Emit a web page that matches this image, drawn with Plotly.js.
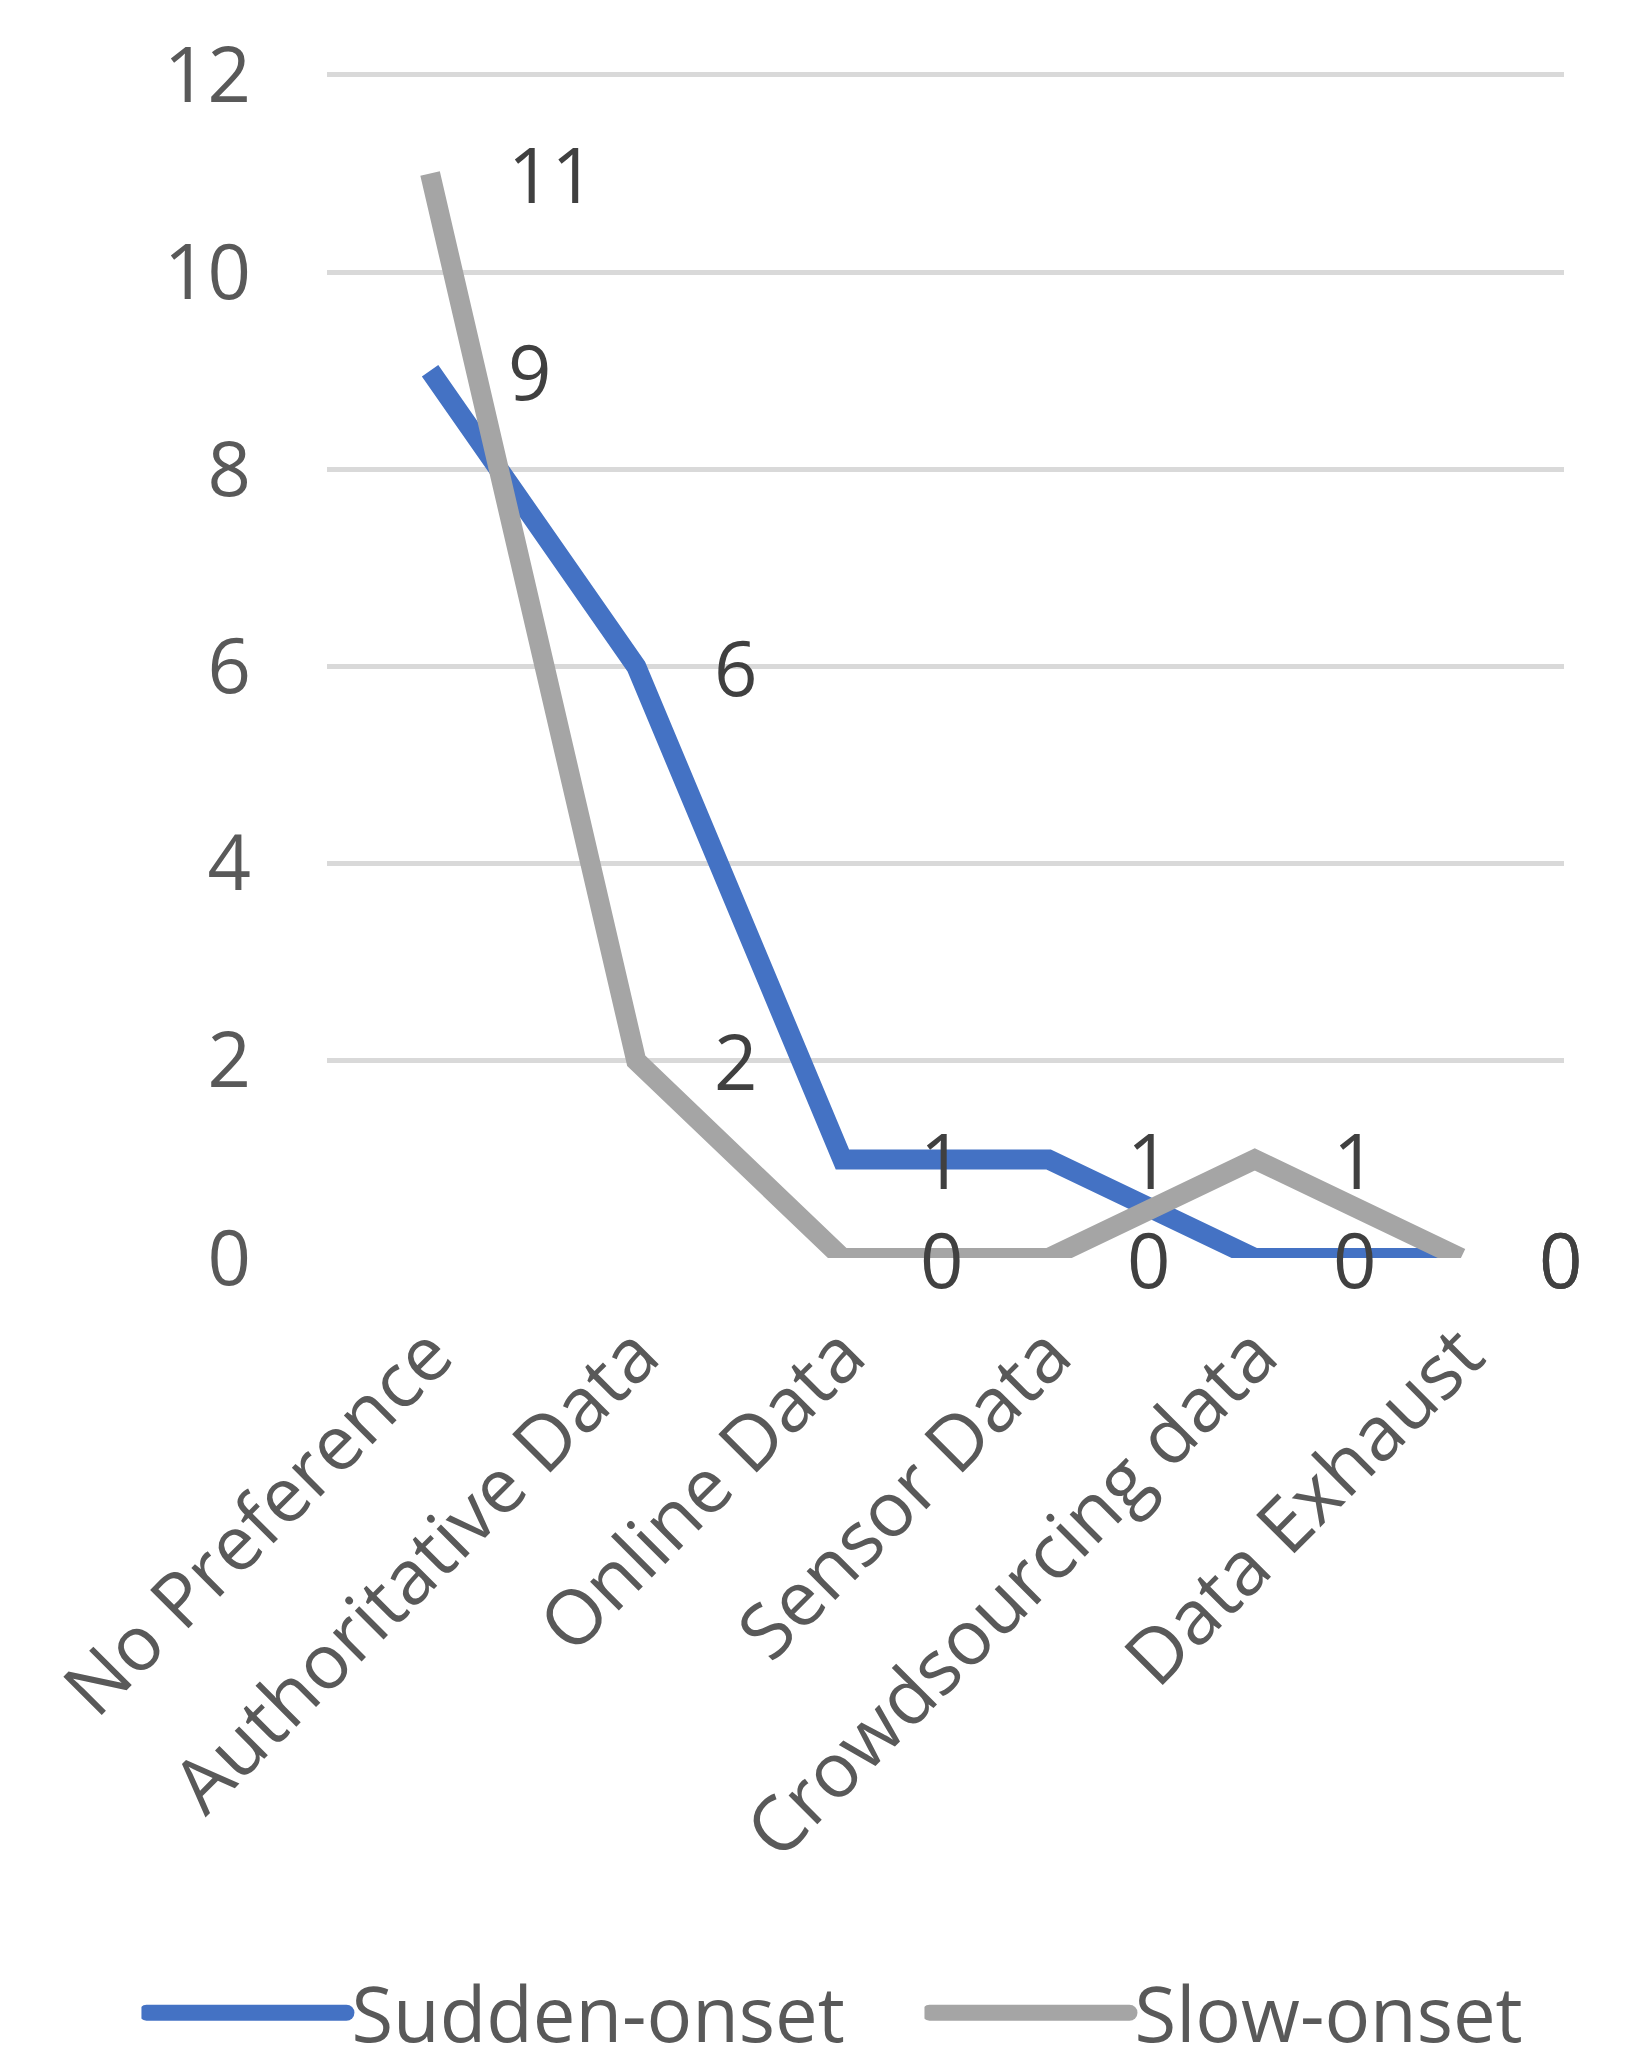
<!DOCTYPE html>
<html>
<head>
<meta charset="utf-8">
<script src="https://cdn.plot.ly/plotly-3.0.1.min.js"></script>
<style>
  html, body { margin: 0; padding: 0; background: #ffffff; }
  #chart { width: 1649px; height: 2049px; }
  #chart .legendlines path { stroke-width: 16px !important; stroke-linecap: round; }
</style>
</head>
<body>
<div id="chart"></div>
<script>
// ---- data ----
const categories = ["No Preference", "Authoritative Data", "Online Data", "Sensor Data", "Crowdsourcing data", "Data Exhaust"];
const suddenOnset = [9, 6, 1, 1, 0, 0];
const slowOnset = [11, 2, 0, 0, 1, 0];
const seriesNames = ["Sudden-onset", "Slow-onset"];
const yTickValues = [0, 2, 4, 6, 8, 10, 12];

// ---- style ----
const FONT = "'Open Sans', 'Noto Sans', sans-serif";
const BLUE = "#4472C4";
const GRAY = "#A5A5A5";
const TICK_COLOR = "#595959";
const LABEL_COLOR = "#404040";

const traces = [
  {
    x: categories, y: suddenOnset, name: seriesNames[0],
    type: "scatter", mode: "lines",
    line: { color: BLUE, width: 20 },
    legend: "legend",
    hoverinfo: "skip"
  },
  {
    x: categories, y: slowOnset, name: seriesNames[1],
    type: "scatter", mode: "lines",
    line: { color: GRAY, width: 20 },
    legend: "legend2",
    hoverinfo: "skip"
  }
];

function labelsFor(values) {
  return values.map((v, i) => ({
    x: categories[i], y: v, xref: "x", yref: "y",
    text: String(v), showarrow: false,
    xanchor: "left", yanchor: "middle", xshift: 76,
    font: { family: FONT, size: 76, color: LABEL_COLOR }
  }));
}

function legendAt(xPos) {
  return {
    orientation: "h",
    x: xPos, xanchor: "left",
    y: -0.637, yanchor: "middle",
    font: { family: FONT, size: 76, color: TICK_COLOR },
    itemwidth: 200,
    bgcolor: "rgba(0,0,0,0)"
  };
}

const layout = {
  width: 1649, height: 2049,
  paper_bgcolor: "#ffffff", plot_bgcolor: "#ffffff",
  margin: { l: 327, r: 85, t: 73, b: 791, autoexpand: false },
  font: { family: FONT, size: 76, color: TICK_COLOR },
  showlegend: true,
  legend: legendAt(-0.15),
  legend2: legendAt(0.483),
  xaxis: {
    type: "category",
    range: [-0.5, 5.5],
    showgrid: false, zeroline: false, showline: false,
    ticks: "", tickangle: -45,
    ticklabelstandoff: 36,
    automargin: false,
    tickfont: { family: FONT, size: 76, color: TICK_COLOR },
    fixedrange: true
  },
  yaxis: {
    range: [0, 12.02],
    tickvals: yTickValues,
    ticktext: yTickValues.map(String),
    showgrid: true, gridcolor: "#D9D9D9", gridwidth: 5,
    zeroline: false, showline: false, ticks: "",
    ticklabelstandoff: 75,
    automargin: false,
    tickfont: { family: FONT, size: 76, color: TICK_COLOR },
    fixedrange: true
  },
  annotations: labelsFor(suddenOnset).concat(labelsFor(slowOnset))
};

Plotly.newPlot("chart", traces, layout, { staticPlot: true, displayModeBar: false });
</script>
</body>
</html>
